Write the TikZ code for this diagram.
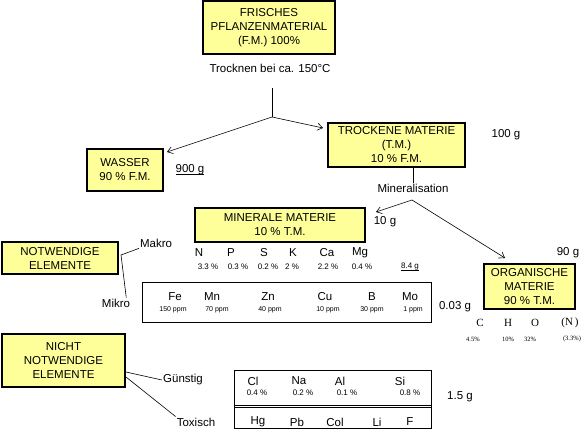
\documentclass[tikz,border=0pt]{standalone}
\usepackage{fontspec}
\setmainfont{Liberation Sans}
\newfontfamily\timesfont{Liberation Serif}
\usetikzlibrary{positioning, arrows.meta}
\definecolor{boxyellow}{HTML}{FFFF99}
\newcommand\ulbox[1]{\setbox0\hbox{#1}\rlap{\rule[-1.6pt]{\wd0}{0.7pt}}\box0}

\begin{document}
\begin{tikzpicture}[
  x=1pt, y=-1pt,
  every node/.style={font=\fontsize{11.5}{14}\selectfont, inner sep=1pt},
  box/.style={draw, line width=2pt, fill=boxyellow, align=center, inner sep=0pt},
  frame/.style={draw, line width=0.8pt, inner sep=0pt},
  pct/.style={font=\fontsize{8}{9}\selectfont},
  ppm/.style={font=\fontsize{7}{8}\selectfont},
  chem/.style={font=\timesfont\fontsize{11}{12}\selectfont},
  chempct/.style={font=\timesfont\fontsize{6.5}{8}\selectfont},
  arr/.style={-{Straight Barb[length=5pt, width=7pt]}, line width=0.6pt}
]
  \useasboundingbox (0,0) rectangle (588,435);

  % boxes
  \node[box, minimum width=132pt, minimum height=53pt] (frisch) at (269,27.5)
    {FRISCHES\\PFLANZENMATERIAL\\(F.M.) 100\%};
  \node[box, minimum width=76pt, minimum height=42pt] (wasser) at (125,170)
    {WASSER\\90 \% F.M.};
  \node[box, minimum width=137pt, minimum height=44pt] (trocken) at (396.5,145)
    {TROCKENE MATERIE\\(T.M.)\\10 \% F.M.};
  \node[box, minimum width=170pt, minimum height=34pt] (mineral) at (280,225)
    {MINERALE MATERIE\\10 \% T.M.};
  \node[box, minimum width=91pt, minimum height=45pt] (organ) at (529.5,286.5)
    {ORGANISCHE\\MATERIE\\90 \% T.M.};
  \node[box, minimum width=116pt, minimum height=32pt] (notw) at (60,258)
    {NOTWENDIGE\\ELEMENTE};
  \node[box, minimum width=123pt, minimum height=53pt] (nichtnotw) at (63.5,360.5)
    {NICHT\\NOTWENDIGE\\ELEMENTE};
  \node[frame, minimum width=289pt, minimum height=40pt] (mikrobox) at (287,302.5) {};
  \node[frame, minimum width=197pt, minimum height=58pt] (spurbox) at (333,399.5) {};

  % labels and masses
  \node (trocknen) at (270,68) {Trocknen bei ca. 150°C};
  \node (minlbl) at (413,188) {Mineralisation};
  \node (wasserg) at (190,170) {\ulbox{900 g}};
  \node (trockeng) at (506,135) {100 g};
  \node (minerg) at (385,222) {10 g};
  \node (organg) at (568,253) {90 g};
  \node[pct] (makrog) at (410,267) {\ulbox{8.4 g}};
  \node (mikrog) at (455,307) {0.03 g};
  \node (spurg) at (460,397) {1.5 g};
  \node (makrolbl) at (156,243) {Makro};
  \node (mikrolbl) at (116,303) {Mikro};
  \node (guenstig) at (183,380) {Günstig};
  \node (toxisch) at (196,422) {Toxisch};

  % makro elements
  \foreach \el/\xx [count=\i] in {N/199, P/231, S/264, K/293, Ca/327, Mg/360}
    \node (makro\i) at (\xx,253) {\el};
  \foreach \pc/\xx [count=\i] in {3.3/208, 0.3/238, 0.2/268, 2/292, 2.2/328, 0.4/362}
    \node[pct] (makropct\i) at (\xx,267) {\pc{} \%};

  % mikro elements
  \foreach \el/\xx [count=\i] in {Fe/175, Mn/212, Zn/268, Cu/325, B/372, Mo/410}
    \node (mikro\i) at (\xx,297) {\el};
  \foreach \pp/\xx [count=\i] in {150/173, 70/217, 40/270, 10/328, 30/372, 1/413}
    \node[ppm] (mikroppm\i) at (\xx,310) {\pp{} ppm};

  % organic elements
  \foreach \el/\xx [count=\i] in {C/480, H/508, O/535, {(N\,)}/570}
    \node[chem] (org\i) at (\xx,323) {\el};
  \foreach \pc/\xx [count=\i] in {4.5\%/473, 10\%/508, 32\%/530, {(3.3\%)}/572}
    \node[chempct] (orgpct\i) at (\xx,339) {\pc};

  % guenstig / toxisch
  \foreach \el/\xx [count=\i] in {Cl/253, Na/299, Al/340, Si/400}
    \node (guen\i) at (\xx,381) {\el};
  \foreach \pc/\xx [count=\i] in {0.4/257, 0.2/303, 0.1/347, 0.8/410}
    \node[pct] (guenpct\i) at (\xx,393) {\pc{} \%};
  \foreach \el/\xx [count=\i] in {Hg/258, Pb/297, Col/335, Li/377, F/410}
    \node (tox\i) at (\xx,422) {\el};
  \draw[line width=0.8pt] ([yshift=-5.5pt]spurbox.west) -- ([yshift=-5.5pt]spurbox.east);
  \draw[line width=0.8pt] ([yshift=-7.5pt]spurbox.west) -- ([yshift=-7.5pt]spurbox.east);

  % connectors
  \coordinate (top1) at (272,88);
  \coordinate (split1) at (272,117);
  \coordinate (split2) at (412,200);
  \coordinate (notwj) at (121,255);
  \draw[line width=0.6pt] (top1) -- (split1);
  \draw[arr] (split1) -- ([xshift=3pt, yshift=-4pt]wasser.north east);
  \draw[arr] (split1) -- ([xshift=-4pt, yshift=-6pt]trocken.north west);
  \draw[line width=0.6pt] ([xshift=16.5pt]trocken.south) -- (minlbl.north);
  \draw[arr] (split2) -- ([xshift=10pt, yshift=-5pt]mineral.north east);
  \draw[arr] (split2) -- ([xshift=22pt, yshift=5pt]organ.north west);
  \draw[line width=0.6pt] (makrolbl.south west) -- (notwj) -- ([xshift=-5pt]mikrolbl.north east);
  \draw[line width=0.6pt] ([yshift=-11.5pt]nichtnotw.east) -- (guenstig.west);
  \draw[line width=0.6pt] ([yshift=-16.5pt]nichtnotw.east) -- (toxisch.north west);
\end{tikzpicture}
\end{document}
